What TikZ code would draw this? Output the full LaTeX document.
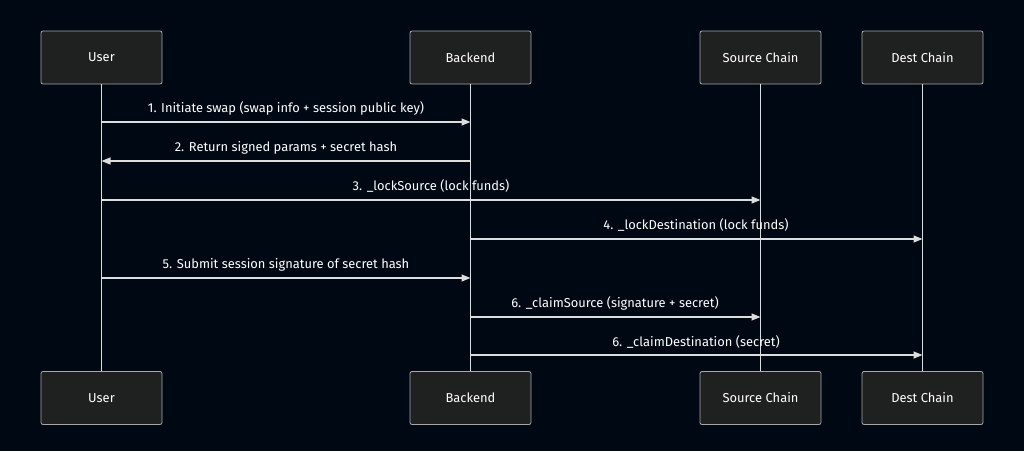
\documentclass[tikz,border=0pt]{standalone}
\usepackage{fontspec}
\setmainfont{Fira Sans}
\usetikzlibrary{arrows.meta}
\definecolor{bg}{HTML}{000814}
\definecolor{boxfill}{HTML}{1F2020}
\definecolor{boxline}{HTML}{A8A8A8}
\definecolor{ln}{HTML}{DDDDDD}
\begin{document}
\begin{tikzpicture}[x=1pt,y=-1pt,
  actor/.style={draw=boxline,fill=boxfill,rounded corners=2pt,line width=0.8pt,minimum width=121pt,minimum height=53pt,text=white,font=\fontsize{12.9}{14}\selectfont,inner sep=0pt},
  life/.style={draw=ln,line width=1.3pt},
  msg/.style={draw=ln,line width=1.2pt,-{Triangle[length=9pt,width=7pt,fill=ln]}},
  lbl/.style={text=white,font=\fontsize{12.9}{14}\selectfont,inner sep=0pt,anchor=base}]
\fill[bg] (0,0) rectangle (1024,451);
\useasboundingbox (0,0) rectangle (1024,451);
% actors
\node[actor] (ut) at (101.5,57.5) {User};
\node[actor] (bt) at (470.5,57.5) {Backend};
\node[actor] (st) at (760.5,57.5) {Source Chain};
\node[actor] (dt) at (922.5,57.5) {Dest Chain};
\node[actor] (ub) at (101.5,398) {User};
\node[actor] (bb) at (470.5,398) {Backend};
\node[actor] (sb) at (760.5,398) {Source Chain};
\node[actor] (db) at (922.5,398) {Dest Chain};
\draw[life] (ut.south) -- (ub.north);
\draw[life] (bt.south) -- (bb.north);
\draw[life] (st.south) -- (sb.north);
\draw[life] (dt.south) -- (db.north);
% message anchor coordinates
\foreach \n/\y in {1/122,2/161,3/200,4/239,5/278,6/317,7/355}{
  \coordinate (u\n) at (101.5,\y);
  \coordinate (b\n) at (470.5,\y);
  \coordinate (s\n) at (760.5,\y);
  \coordinate (d\n) at (922.5,\y);
}
\draw[msg] (u1) -- (b1);
\node[lbl] (l1) at (286,112) {1. Initiate swap (swap info + session public key)};
\draw[msg] (b2) -- (u2);
\node[lbl] (l2) at (286,151) {2. Return signed params + secret hash};
\draw[msg] (u3) -- (s3);
\node[lbl] (l3) at (431,190) {3. \_lockSource (lock funds)};
\draw[msg] (b4) -- (d4);
\node[lbl] (l4) at (696,229) {4. \_lockDestination (lock funds)};
\draw[msg] (u5) -- (b5);
\node[lbl] (l5) at (286,268) {5. Submit session signature of secret hash};
\draw[msg] (b6) -- (s6);
\node[lbl] (l6) at (615,307) {6. \_claimSource (signature + secret)};
\draw[msg] (b7) -- (d7);
\node[lbl] (l7) at (696,346) {6. \_claimDestination (secret)};
\end{tikzpicture}
\end{document}
